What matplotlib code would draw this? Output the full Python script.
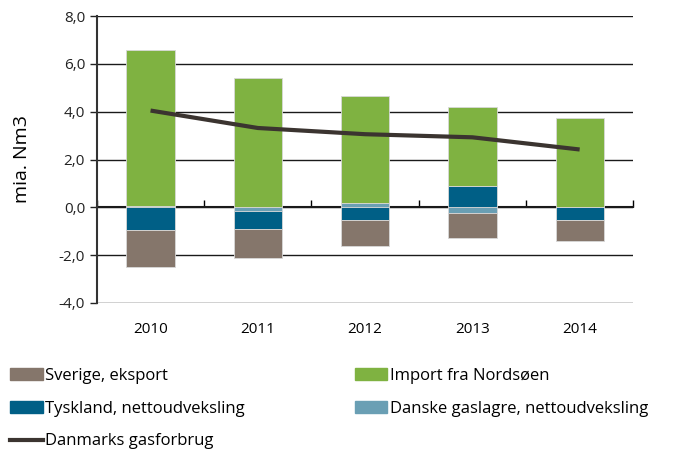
import numpy as np
import matplotlib.pyplot as plt
from matplotlib.patches import Patch
from matplotlib.lines import Line2D

plt.rcParams['font.family'] = ['Open Sans', 'DejaVu Sans']

years = ['2010', '2011', '2012', '2013', '2014']
danske = [0.07, -0.14, 0.17, -0.25, 0.0]
tyskland = [-0.95, -0.75, -0.53, 0.89, -0.53]
sverige = [-1.56, -1.25, -1.07, -1.03, -0.87]
import_nordsoen = [6.5, 5.42, 4.5, 3.3, 3.75]
forbrug = [4.05, 3.32, 3.06, 2.93, 2.42]

series = [
    ('Danske gaslagre, nettoudveksling', danske, '#6a9fb4'),
    ('Tyskland, nettoudveksling', tyskland, '#005f86'),
    ('Sverige, eksport', sverige, '#85766b'),
    ('Import fra Nordsøen', import_nordsoen, '#7fb241'),
]

fig = plt.figure(figsize=(6.73, 4.5), dpi=100)
ax = fig.add_axes([0.144, 0.327, 0.797, 0.637])

x = np.arange(len(years))
pos = np.zeros(len(years))
neg = np.zeros(len(years))
for name, vals, col in series:
    v = np.array(vals)
    bottom = np.where(v >= 0, pos, neg)
    ax.bar(x, v, width=0.45, bottom=bottom, color=col, edgecolor='#d8d8d8',
           linewidth=0.6, zorder=3)
    pos = pos + np.clip(v, 0, None)
    neg = neg + np.clip(v, None, 0)

ax.plot(x, forbrug, color='#3b3430', linewidth=3, zorder=4, solid_capstyle='butt')

ax.set_xlim(-0.5, len(years) - 0.5)
ax.set_ylim(-4, 8)
ax.set_yticks(np.arange(-4, 9, 2))
ax.set_yticklabels([f'{t:.1f}'.replace('.', ',') for t in np.arange(-4, 9, 2)])
ax.yaxis.grid(True, color='#1a1a1a', linewidth=1.0, zorder=0)
ax.set_axisbelow(True)

ax.set_xticks(x)
ax.set_xticklabels(years)
ax.tick_params(axis='x', length=0, pad=14, labelsize=11)
ax.tick_params(axis='y', direction='out', length=5, width=1, labelsize=11, colors='#222222')

for s in ['top', 'right', 'bottom']:
    ax.spines[s].set_visible(False)
ax.spines['left'].set_color('#333333')
ax.spines['left'].set_linewidth(1.5)

# zero axis with category separators
sec = ax.secondary_xaxis(4 / 12)
sec.set_xticks(np.arange(-0.5, len(years), 1.0))
sec.tick_params(axis='x', direction='in', length=5, width=1, labelbottom=False, labeltop=False)
sec.spines['bottom'].set_linewidth(1.5)
sec.spines['bottom'].set_color('#1a1a1a')
sec.spines['bottom'].set_zorder(5)

ax.set_ylabel('mia. Nm3', fontsize=14, labelpad=20)

handles = [
    Patch(color='#85766b', label='Sverige, eksport'),
    Patch(color='#005f86', label='Tyskland, nettoudveksling'),
    Line2D([0], [0], color='#3b3430', linewidth=3, label='Danmarks gasforbrug'),
    Patch(color='#7fb241', label='Import fra Nordsøen'),
    Patch(color='#6a9fb4', label='Danske gaslagre, nettoudveksling'),
]
fig.legend(handles=handles, ncol=2, frameon=False, loc='upper left',
           bbox_to_anchor=(0.005, 0.197), fontsize=12, handlelength=1.95,
           handleheight=0.7, handletextpad=0.15, labelspacing=1.0,
           columnspacing=6.6, borderaxespad=0)

fig.savefig('out.png', dpi=100)
